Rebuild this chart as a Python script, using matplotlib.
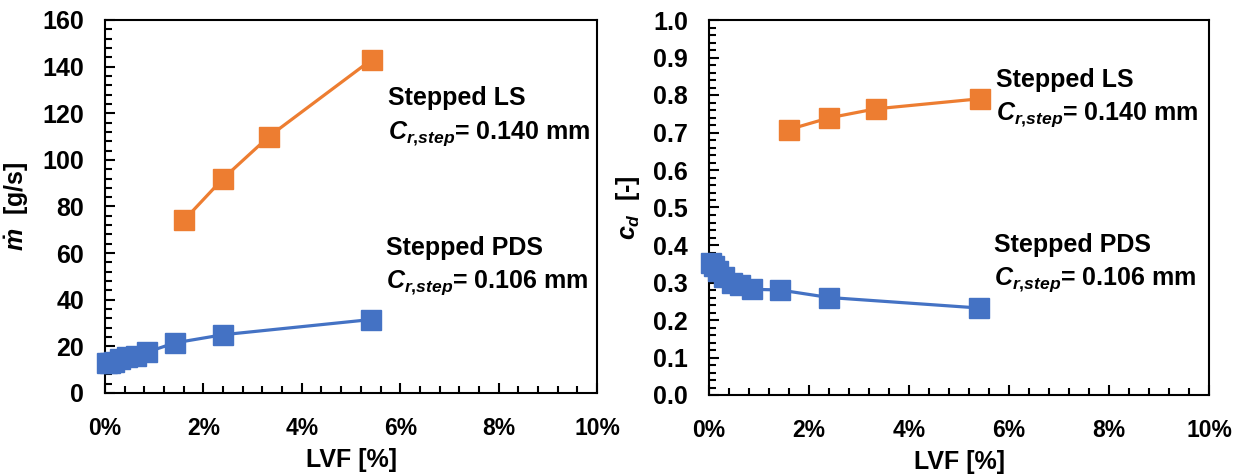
import matplotlib
matplotlib.use("Agg")
import matplotlib.pyplot as plt
from matplotlib.ticker import MultipleLocator, FuncFormatter

plt.rcParams['font.family'] = ['Liberation Sans', 'DejaVu Sans']
plt.rcParams['font.weight'] = 'bold'
plt.rcParams['axes.labelweight'] = 'bold'
plt.rcParams['mathtext.fontset'] = 'custom'
plt.rcParams['mathtext.rm'] = 'Liberation Sans:bold'
plt.rcParams['mathtext.it'] = 'Liberation Sans:bold:italic'
plt.rcParams['mathtext.bf'] = 'Liberation Sans:bold'

# LVF [%]
ls_lvf = [1.6, 2.4, 3.33, 5.42]
pds_lvf = [0.04, 0.1, 0.18, 0.3, 0.45, 0.62, 0.85, 1.42, 2.4, 5.4]

# mass flow [g/s]
ls_mdot = [74, 92, 110, 143]
pds_mdot = [13, 13, 13.5, 14.5, 15.5, 16, 17.5, 21.5, 25, 31.5]

# discharge coefficient [-]
ls_cd = [0.708, 0.739, 0.763, 0.790]
pds_cd = [0.352, 0.345, 0.33, 0.315, 0.30, 0.293, 0.282, 0.28, 0.26, 0.232]

blue = '#4472C4'
orange = '#ED7D31'
W, H = 1238, 476

fig = plt.figure(figsize=(W/100, H/100), dpi=100)
ax1 = fig.add_axes([105/W, 1-393/H, 492/W, 373/H])
ax2 = fig.add_axes([709/W, 1-395/H, 500/W, 375/H])

def style(ax):
    ax.set_xlim(0, 10)
    ax.xaxis.set_major_locator(MultipleLocator(2))
    ax.xaxis.set_minor_locator(MultipleLocator(0.4))
    ax.xaxis.set_major_formatter(FuncFormatter(lambda v, p: f'{v:.0f}%'))
    ax.tick_params(which='both', direction='in', width=1.5)
    ax.tick_params(which='major', length=7)
    ax.tick_params(which='minor', length=5)
    ax.tick_params(axis='x', pad=17, labelsize=16.5)
    ax.tick_params(axis='y', pad=15, labelsize=18)
    for s in ax.spines.values():
        s.set_linewidth(1.5)
    ax.set_xlabel('LVF [%]', fontsize=18, labelpad=6)

for ax, ls_y, pds_y in [(ax1, ls_mdot, pds_mdot), (ax2, ls_cd, pds_cd)]:
    ax.plot(ls_lvf, ls_y, color=orange, lw=2.3, marker='s', ms=15, clip_on=False, zorder=3)
    ax.plot(pds_lvf, pds_y, color=blue, lw=2.3, marker='s', ms=15, clip_on=False, zorder=3)
    style(ax)

ax1.set_ylim(0, 160)
ax1.yaxis.set_major_locator(MultipleLocator(20))
ax1.yaxis.set_minor_locator(MultipleLocator(4))
ax1.set_ylabel(r'$\dot{m}$  [g/s]', fontsize=18, labelpad=8)

ax2.set_ylim(0, 1.0)
ax2.yaxis.set_major_locator(MultipleLocator(0.1))
ax2.yaxis.set_minor_locator(MultipleLocator(0.02))
ax2.yaxis.set_major_formatter(FuncFormatter(lambda v, p: f'{v:.1f}'))
ax2.set_ylabel(r'$c_d$  [-]', fontsize=18, labelpad=8)

notes = [
    (388, 98, 'Stepped LS'), (388, 134, r'$C_{r{,}step}$= 0.140 mm'),
    (386, 248, 'Stepped PDS'), (386, 283, r'$C_{r{,}step}$= 0.106 mm'),
    (996, 80, 'Stepped LS'), (996, 115, r'$C_{r{,}step}$= 0.140 mm'),
    (994, 245, 'Stepped PDS'), (994, 280, r'$C_{r{,}step}$= 0.106 mm'),
]
for x, y, t in notes:
    fig.text(x/W, 1-y/H, t, fontsize=18, fontweight='bold', va='center', ha='left')

fig.savefig('out.png', dpi=100)
